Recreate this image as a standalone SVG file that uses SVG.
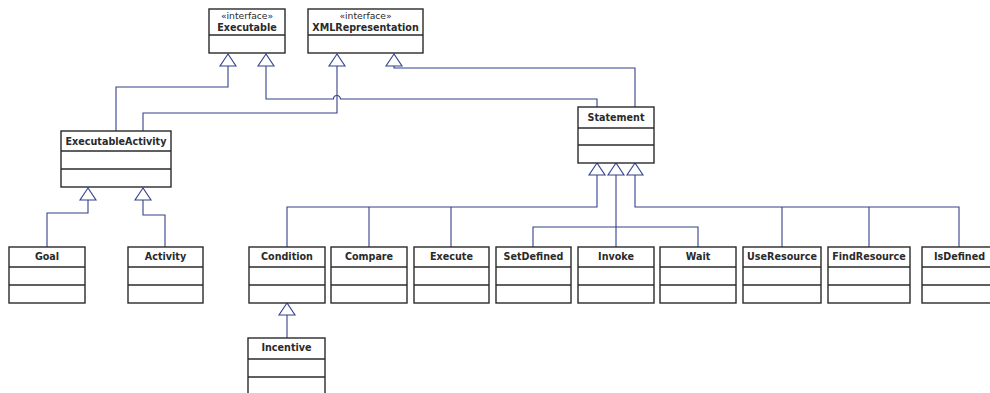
<svg xmlns="http://www.w3.org/2000/svg" width="990" height="393" viewBox="0 0 990 393">
  <defs>
    <style>
      .box { fill: #ffffff; stroke: #2a2a2a; stroke-width: 1.4; }
      .sep { stroke: #2a2a2a; stroke-width: 1.4; }
      .name { font-family: "DejaVu Sans", Verdana, sans-serif; font-weight: bold; font-size: 9.6px; fill: #2a2a2a; text-anchor: middle; }
      .stereo { font-family: "DejaVu Sans", Verdana, sans-serif; font-size: 9.2px; fill: #2a2a2a; text-anchor: middle; }
      .edge { fill: none; stroke: #33418c; stroke-width: 1.1; }
      .tri { fill: #ffffff; stroke: #33418c; stroke-width: 1.1; }
    </style>
  </defs>

  <rect width="990" height="393" fill="#ffffff"/>

  <!-- inheritance / realization connectors -->
  <g id="connectors">
    <!-- ExecutableActivity -> Executable -->
    <path class="edge" d="M116,131 V87 H228 V66"/>
    <!-- ExecutableActivity -> XMLRepresentation -->
    <path class="edge" d="M143,131 V113 H337 V66"/>
    <!-- Statement -> Executable (hops over the XMLRepresentation line) -->
    <path class="edge" d="M266,66 V99 H333.5 A3.5,3.5 0 0 1 340.5,99 H597 V107"/>
    <!-- Statement -> XMLRepresentation -->
    <path class="edge" d="M394,66 V68 H635 V107"/>

    <!-- Goal / Activity -> ExecutableActivity -->
    <path class="edge" d="M47,247 V213 H88 V200"/>
    <path class="edge" d="M165,247 V215 H143 V200"/>

    <!-- Condition, Compare, Execute -> Statement -->
    <path class="edge" d="M287,247 V207 H597 V175"/>
    <path class="edge" d="M369,247 V207"/>
    <path class="edge" d="M451,247 V207"/>

    <!-- SetDefined, Invoke, Wait -> Statement -->
    <path class="edge" d="M616,247 V175"/>
    <path class="edge" d="M533,247 V227 H698 V247"/>

    <!-- UseResource, FindResource, IsDefined -> Statement -->
    <path class="edge" d="M635,175 V207 H959 V247"/>
    <path class="edge" d="M782,247 V207"/>
    <path class="edge" d="M869,247 V207"/>

    <!-- Incentive -> Condition -->
    <path class="edge" d="M287,338 V315"/>

    <!-- hollow triangle heads -->
    <polygon class="tri" points="228,54 220,66 236,66"/>
    <polygon class="tri" points="266,54 258,66 274,66"/>
    <polygon class="tri" points="337,54 329,66 345,66"/>
    <polygon class="tri" points="394,54 386,66 402,66"/>
    <polygon class="tri" points="88,188 80,200 96,200"/>
    <polygon class="tri" points="143,188 135,200 151,200"/>
    <polygon class="tri" points="597,163 589,175 605,175"/>
    <polygon class="tri" points="616,163 608,175 624,175"/>
    <polygon class="tri" points="635,163 627,175 643,175"/>
    <polygon class="tri" points="287,303 279,315 295,315"/>
  </g>

  <!-- interfaces -->
  <g id="Executable">
    <rect class="box" x="209" y="9" width="76" height="44"/>
    <line class="sep" x1="209" y1="35" x2="285" y2="35"/>
    <text class="stereo" x="247" y="19">«interface»</text>
    <text class="name" x="247" y="31">Executable</text>
  </g>
  <g id="XMLRepresentation">
    <rect class="box" x="308" y="9" width="115" height="44"/>
    <line class="sep" x1="308" y1="35" x2="423" y2="35"/>
    <text class="stereo" x="365.5" y="19">«interface»</text>
    <text class="name" x="365.5" y="31">XMLRepresentation</text>
  </g>

  <!-- classes -->
  <g id="ExecutableActivity">
    <rect class="box" x="61" y="131" width="110" height="56"/>
    <line class="sep" x1="61" y1="151" x2="171" y2="151"/>
    <line class="sep" x1="61" y1="169" x2="171" y2="169"/>
    <text class="name" x="116" y="145">ExecutableActivity</text>
  </g>
  <g id="Statement">
    <rect class="box" x="578" y="107" width="76" height="56"/>
    <line class="sep" x1="578" y1="128" x2="654" y2="128"/>
    <line class="sep" x1="578" y1="145" x2="654" y2="145"/>
    <text class="name" x="616" y="121">Statement</text>
  </g>

  <g id="Goal">
    <rect class="box" x="9" y="247" width="76" height="56"/>
    <line class="sep" x1="9" y1="267" x2="85" y2="267"/>
    <line class="sep" x1="9" y1="285" x2="85" y2="285"/>
    <text class="name" x="47" y="260">Goal</text>
  </g>
  <g id="Activity">
    <rect class="box" x="128" y="247" width="75" height="56"/>
    <line class="sep" x1="128" y1="267" x2="203" y2="267"/>
    <line class="sep" x1="128" y1="285" x2="203" y2="285"/>
    <text class="name" x="165.5" y="260">Activity</text>
  </g>
  <g id="Condition">
    <rect class="box" x="249" y="247" width="76" height="56"/>
    <line class="sep" x1="249" y1="267" x2="325" y2="267"/>
    <line class="sep" x1="249" y1="285" x2="325" y2="285"/>
    <text class="name" x="287" y="260">Condition</text>
  </g>
  <g id="Compare">
    <rect class="box" x="331" y="247" width="76" height="56"/>
    <line class="sep" x1="331" y1="267" x2="407" y2="267"/>
    <line class="sep" x1="331" y1="285" x2="407" y2="285"/>
    <text class="name" x="369" y="260">Compare</text>
  </g>
  <g id="Execute">
    <rect class="box" x="414" y="247" width="75" height="56"/>
    <line class="sep" x1="414" y1="267" x2="489" y2="267"/>
    <line class="sep" x1="414" y1="285" x2="489" y2="285"/>
    <text class="name" x="451.5" y="260">Execute</text>
  </g>
  <g id="SetDefined">
    <rect class="box" x="496" y="247" width="75" height="56"/>
    <line class="sep" x1="496" y1="267" x2="571" y2="267"/>
    <line class="sep" x1="496" y1="285" x2="571" y2="285"/>
    <text class="name" x="533.5" y="260">SetDefined</text>
  </g>
  <g id="Invoke">
    <rect class="box" x="578" y="247" width="76" height="56"/>
    <line class="sep" x1="578" y1="267" x2="654" y2="267"/>
    <line class="sep" x1="578" y1="285" x2="654" y2="285"/>
    <text class="name" x="616" y="260">Invoke</text>
  </g>
  <g id="Wait">
    <rect class="box" x="660" y="247" width="76" height="56"/>
    <line class="sep" x1="660" y1="267" x2="736" y2="267"/>
    <line class="sep" x1="660" y1="285" x2="736" y2="285"/>
    <text class="name" x="698" y="260">Wait</text>
  </g>
  <g id="UseResource">
    <rect class="box" x="743" y="247" width="78" height="56"/>
    <line class="sep" x1="743" y1="267" x2="821" y2="267"/>
    <line class="sep" x1="743" y1="285" x2="821" y2="285"/>
    <text class="name" x="782" y="260">UseResource</text>
  </g>
  <g id="FindResource">
    <rect class="box" x="828" y="247" width="82" height="56"/>
    <line class="sep" x1="828" y1="267" x2="910" y2="267"/>
    <line class="sep" x1="828" y1="285" x2="910" y2="285"/>
    <text class="name" x="869" y="260">FindResource</text>
  </g>
  <g id="IsDefined">
    <rect class="box" x="922" y="247" width="75" height="56"/>
    <line class="sep" x1="922" y1="267" x2="997" y2="267"/>
    <line class="sep" x1="922" y1="285" x2="997" y2="285"/>
    <text class="name" x="959.5" y="260">IsDefined</text>
  </g>
  <g id="Incentive">
    <rect class="box" x="248" y="338" width="77" height="60"/>
    <line class="sep" x1="248" y1="359" x2="325" y2="359"/>
    <line class="sep" x1="248" y1="377" x2="325" y2="377"/>
    <text class="name" x="286.5" y="351">Incentive</text>
  </g>
</svg>
